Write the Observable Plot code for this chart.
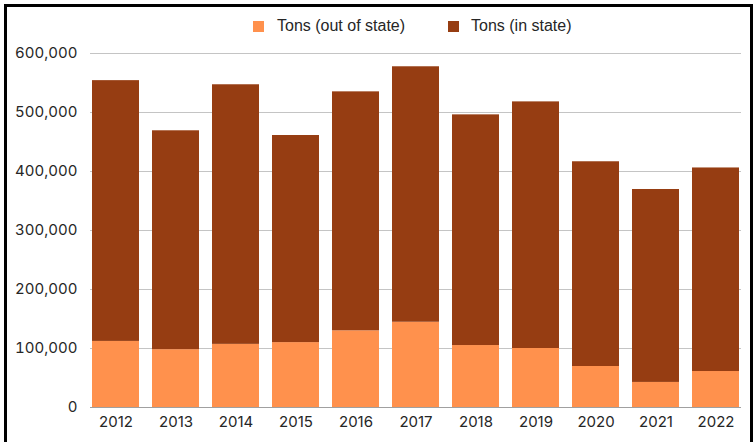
<!DOCTYPE html>
<html>
<head>
<meta charset="utf-8">
<script src="https://cdn.jsdelivr.net/npm/d3@7"></script>
<script src="https://cdn.jsdelivr.net/npm/@observablehq/plot@0.6"></script>
<style>
  html, body { margin: 0; padding: 0; background: #fff; }
  #wrap { position: relative; width: 756px; height: 442px; overflow: hidden; }
  #frame { position: absolute; left: 4px; top: 4px; width: 743px; height: 460px;
           border-left: 3px solid #000; border-top: 3px solid #000; border-right: 3px solid #000; pointer-events: none; }
  #chart { position: absolute; left: 0; top: 0; }
  .leg { position: absolute; top: 16px; font-family: "Liberation Sans", Arial, sans-serif; font-size: 16px; color: #262626; line-height: 20px; }
  .sw { position: absolute; top: 21px; width: 11px; height: 11px; }
</style>
</head>
<body>
<div id="wrap">
  <div id="chart"></div>
  <div class="sw" id="sw0" style="left:253px;"></div>
  <div class="leg" id="lg0" style="left:277px;"></div>
  <div class="sw" id="sw1" style="left:448px;"></div>
  <div class="leg" id="lg1" style="left:471px;"></div>
  <div id="frame"></div>
</div>
<script>
const years = ["2012","2013","2014","2015","2016","2017","2018","2019","2020","2021","2022"];
const outOfState = [112000, 98000, 107000, 110000, 130000, 144500, 105000, 100000, 69500, 42500, 61000];
const inState = [442000, 371000, 440000, 351000, 405000, 433000, 391000, 418000, 347000, 327000, 345000];
const seriesNames = ["Tons (out of state)", "Tons (in state)"];
const seriesColors = ["#FF914D", "#963D12"];
const yTicks = [0, 100000, 200000, 300000, 400000, 500000, 600000];

const rows = [];
years.forEach((yr, i) => {
  rows.push({year: yr, series: seriesNames[0], value: outOfState[i]});
  rows.push({year: yr, series: seriesNames[1], value: inState[i]});
});

const fmt = d3.format(",");
const chart = Plot.plot({
  width: 756,
  height: 442,
  marginLeft: 90,
  marginRight: 15,
  marginTop: 53,
  marginBottom: 35,
  style: {fontFamily: "Inter, sans-serif", fontSize: "15px", color: "#262626", background: "transparent"},
  x: {domain: years, paddingInner: 0.22, paddingOuter: 0, label: null},
  y: {domain: [0, 600000], label: null},
  color: {domain: seriesNames, range: seriesColors},
  marks: [
    Plot.gridY(yTicks, {stroke: "#c4c4c4", strokeOpacity: 1, strokeWidth: 1}),
    Plot.barY(rows, {x: "year", y: "value", fill: "series", order: seriesNames}),
    Plot.ruleY([0], {stroke: "#a0a0a0", strokeWidth: 1}),
    Plot.axisY(yTicks, {tickSize: 0, tickPadding: 13, tickFormat: fmt, label: null}),
    Plot.axisX({tickSize: 0, tickPadding: 9, label: null})
  ]
});
document.getElementById("chart").appendChild(chart);

seriesNames.forEach((n, i) => {
  document.getElementById("sw" + i).style.background = seriesColors[i];
  document.getElementById("lg" + i).textContent = n;
});
</script>
</body>
</html>
